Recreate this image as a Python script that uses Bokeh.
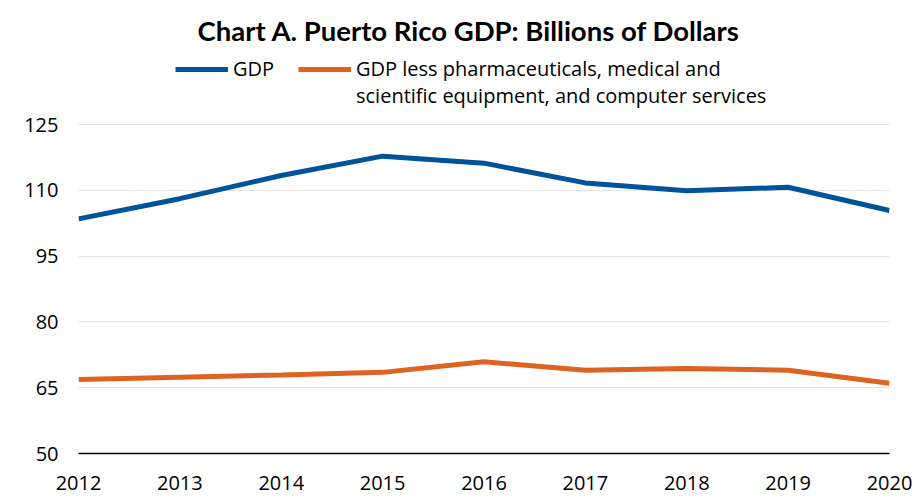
from bokeh.plotting import figure
from bokeh.models import Legend, LegendItem, FixedTicker, Range1d, Title
from bokeh.embed import file_html
from bokeh.resources import INLINE

years = [2012, 2013, 2014, 2015, 2016, 2017, 2018, 2019, 2020]
gdp = [103.5, 108.1, 113.4, 117.8, 116.2, 111.7, 109.9, 110.7, 105.4]
gdp_less = [66.9, 67.4, 67.9, 68.5, 70.9, 69.0, 69.4, 69.0, 66.0]
y_ticks = [50, 65, 80, 95, 110, 125]

title_text = "Chart A. Puerto Rico GDP: Billions of Dollars"
label_gdp = "GDP"
label_less_1 = "GDP less pharmaceuticals, medical and"
label_less_2 = "scientific equipment, and computer services"

TITLE_FONT = "Lato"
FONT = "Open Sans"
BLUE = "#00529B"
ORANGE = "#DE6220"

# frame extends above 125 so the legend can sit in the headroom (no gridlines there)
p = figure(width=912, height=496, output_backend="svg", toolbar_location=None,
           x_range=Range1d(2012, 2020), y_range=Range1d(50, 142.8),
           min_border_left=78, min_border_right=23, min_border_top=46, min_border_bottom=43,
           title=None)

p.add_layout(Title(text=title_text, text_font=TITLE_FONT, text_font_size="27.5px", text_font_style="bold",
                   text_color="#000000", align="left", offset=119, standoff=0), "above")

r1 = p.line(years, gdp, line_color=BLUE, line_width=5)
r2 = p.line(years, gdp_less, line_color=ORANGE, line_width=5)
# invisible helpers so the long label wraps onto a second legend row
blank = p.line(x=[], y=[], line_alpha=0)

legend = Legend(items=[LegendItem(label=label_gdp, renderers=[r1]),
                       LegendItem(label=label_less_1, renderers=[r2]),
                       LegendItem(label=" ", renderers=[blank]),
                       LegendItem(label=label_less_2, renderers=[blank])],
                orientation="horizontal", ncols=2, location=(97, 344),
                label_text_font=FONT, label_text_font_size="20px", label_text_color="#000000",
                glyph_width=53, glyph_height=24, label_standoff=5, spacing=0, label_width=65,
                padding=0, margin=0, border_line_color=None, background_fill_alpha=0)
p.add_layout(legend, "center")

p.xaxis.ticker = FixedTicker(ticks=years)
p.yaxis.ticker = FixedTicker(ticks=y_ticks)
for ax in (p.xaxis, p.yaxis):
    ax.major_tick_line_color = None
    ax.minor_tick_line_color = None
    ax.major_tick_out = 0
    ax.major_label_text_font = FONT
    ax.major_label_text_font_size = "20px"
    ax.major_label_text_color = "#000000"
p.xaxis.major_label_standoff = 22
p.yaxis.major_label_standoff = 20
p.yaxis.axis_line_color = None
p.xaxis.axis_line_color = "#000000"
p.xaxis.axis_line_width = 1.5

p.xgrid.grid_line_color = None
p.ygrid.grid_line_color = "#E3E3E3"
p.ygrid.grid_line_width = 1
p.outline_line_color = None

open("out.html", "w").write(file_html(p, INLINE))
